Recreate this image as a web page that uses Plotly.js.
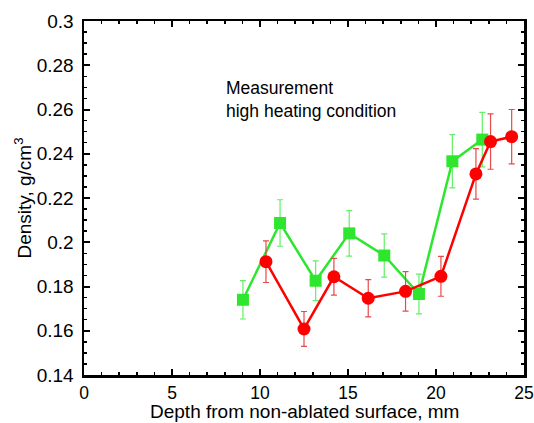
<!DOCTYPE html>
<html><head><meta charset="utf-8">
<script src="https://cdn.plot.ly/plotly-3.0.1.min.js"></script>
<style>body{margin:0;background:#fff}#c{width:534px;height:423px}</style>
</head><body><div id="c"></div>
<script>
var greenX = [9.03, 11.14, 13.16, 15.07, 17.06, 19.03, 20.93, 22.63];
var greenY = [0.174, 0.2087, 0.1826, 0.204, 0.194, 0.1766, 0.2366, 0.2464];
var greenErr = [0.0087, 0.0105, 0.009, 0.0103, 0.0098, 0.009, 0.012, 0.0123];
var redX = [10.34, 12.5, 14.2, 16.15, 18.27, 20.28, 22.27, 23.1, 24.3];
var redY = [0.1912, 0.1608, 0.1844, 0.1747, 0.1778, 0.1846, 0.2309, 0.2455, 0.2477];
var redErr = [0.0094, 0.0079, 0.0083, 0.0084, 0.0089, 0.009, 0.0114, 0.0125, 0.0123];
var xTicks = [0, 5, 10, 15, 20, 25];
var yTicks = [0.14, 0.16, 0.18, 0.2, 0.22, 0.24, 0.26, 0.28, 0.3];
var annoLines = ["Measurement", "high heating condition"];
var xTitle = 'Depth from non-ablated surface, mm';
var yTitle = 'Density, g/cm<sup>3</sup>';

var green = '#2ee62e', red = '#ff0000';
var FONT = 'Liberation Sans, Arial, sans-serif';
var traces = [
  {x: greenX, y: greenY, type: 'scatter', mode: 'lines+markers',
   line: {color: green, width: 2.5}, marker: {symbol: 'square', size: 12, color: green},
   error_y: {type: 'data', array: greenErr, visible: true, color: '#66ee66', thickness: 1.2, width: 3}},
  {x: redX, y: redY, type: 'scatter', mode: 'lines+markers',
   line: {color: red, width: 2.5}, marker: {symbol: 'circle', size: 13, color: red},
   error_y: {type: 'data', array: redErr, visible: true, color: '#e84a4a', thickness: 1.2, width: 3}}
];
var axBase = {showgrid: false, zeroline: false, showline: true, linecolor: '#000', linewidth: 2.5,
  mirror: 'allticks', ticks: 'inside', ticklen: 6, tickwidth: 2, tickcolor: '#000',
  ticklabeloverflow: 'allow', automargin: false};
var layout = {
  width: 534, height: 423, showlegend: false,
  paper_bgcolor: '#fff', plot_bgcolor: '#fff',
  margin: {l: 84, r: 10, t: 21, b: 48},
  xaxis: Object.assign({}, axBase, {range: [0, 25], tickvals: xTicks, ticktext: xTicks.map(String),
    ticklabelstandoff: 0, tickfont: {family: FONT, size: 17.5, color: '#000'},
    minor: {dtick: 1, ticks: 'inside', ticklen: 3, tickwidth: 1.5, tickcolor: '#000'}}),
  yaxis: Object.assign({}, axBase, {range: [0.14, 0.3], tickvals: yTicks, ticktext: yTicks.map(String),
    ticklabelstandoff: 4, tickfont: {family: FONT, size: 19, color: '#000'},
    minor: {dtick: 0.005, ticks: 'inside', ticklen: 3, tickwidth: 1.5, tickcolor: '#000'},
    title: {text: yTitle, standoff: 0,
      font: {family: FONT, size: 19, color: '#000'}}}),
  annotations: [
    {xref: 'paper', yref: 'paper', x: (224 - 84) / 440, y: (375 - 76) / 354,
     xanchor: 'left', yanchor: 'top', align: 'left', showarrow: false,
     text: annoLines.join('<br>'),
     font: {family: FONT, size: 17.5, color: '#000'}},
    {xref: 'paper', yref: 'paper', x: 0.5, y: -48 / 354, xanchor: 'center', yanchor: 'bottom',
     showarrow: false, borderpad: 0, text: xTitle,
     font: {family: FONT, size: 19, color: '#000'}}
  ]
};
Plotly.newPlot('c', traces, layout, {displayModeBar: false, staticPlot: true});
</script></body></html>
